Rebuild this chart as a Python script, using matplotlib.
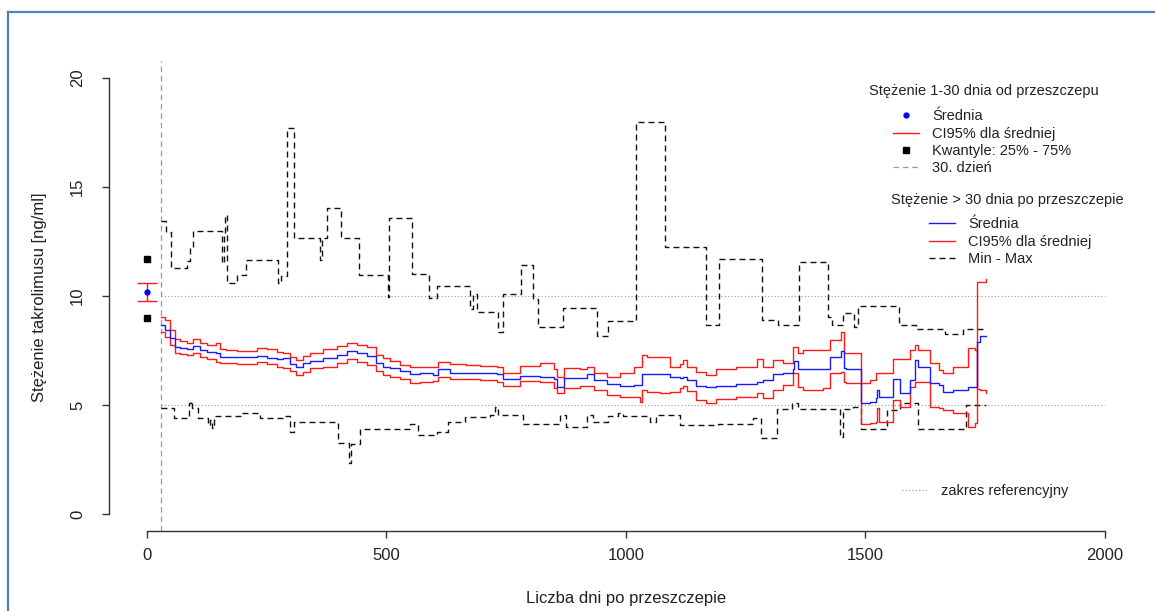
import matplotlib.pyplot as plt
from matplotlib.lines import Line2D

plt.rcParams['font.family'] = ['Liberation Sans', 'DejaVu Sans']

# pierwsze 30 dni (punkt przy dniu 0)
early_mean = 10.17
early_ci = [9.77, 10.58]
early_q = [8.98, 11.68]
day_30 = 30
ref_range = [5, 10]

# > 30 dni: srednia i CI95% (funkcje schodkowe)
ci_days = [30, 38, 48, 58, 69, 83, 97, 111, 125, 145, 152, 166, 187, 215, 229, 250, 271, 285,
           298, 312, 326, 340, 368, 396, 417, 438, 459, 479, 493, 507, 528, 549, 570, 598, 608,
           632, 667, 695, 730, 744, 779, 821, 849, 856, 870, 905, 919, 933, 960, 988, 1016,
           1030, 1034, 1044, 1072, 1092, 1113, 1120, 1127, 1147, 1168, 1189, 1231, 1273, 1287,
           1308, 1329, 1349, 1352, 1360, 1370, 1412, 1426, 1449, 1456, 1460, 1492, 1510, 1523,
           1524, 1528, 1558, 1572, 1593, 1603, 1610, 1635, 1655, 1662, 1683, 1715, 1729, 1733,
           1740, 1752]
mean = [8.67, 8.44, 8.06, 7.68, 7.60, 7.55, 7.71, 7.52, 7.45, 7.40, 7.22, 7.19, 7.22, 7.19,
        7.25, 7.14, 7.09, 7.14, 6.88, 6.73, 6.94, 7.03, 7.14, 7.29, 7.49, 7.37, 7.25, 6.94,
        6.76, 6.68, 6.55, 6.40, 6.45, 6.38, 6.64, 6.48, 6.45, 6.45, 6.42, 6.18, 6.35, 6.30,
        6.18, 5.84, 6.22, 6.25, 6.42, 6.15, 5.96, 5.87, 5.92, 5.92, 6.41, 6.41, 6.41, 6.30,
        6.22, 6.30, 6.15, 5.87, 5.81, 5.87, 5.96, 6.07, 6.15, 6.42, 6.48, 6.64, 7.03, 6.64,
        6.64, 6.64, 7.19, 7.49, 6.68, 6.64, 5.08, 5.15, 5.31, 5.69, 5.38, 6.18, 5.57, 6.15,
        7.06, 6.76, 6.02, 5.92, 5.61, 5.69, 5.84, 5.84, 7.91, 8.17, 8.17]
ci_hi = [9.02, 8.90, 8.44, 8.01, 7.95, 7.86, 8.01, 7.83, 7.75, 7.83, 7.55, 7.52, 7.49, 7.49,
         7.60, 7.55, 7.45, 7.40, 7.22, 7.06, 7.25, 7.37, 7.55, 7.71, 7.86, 7.75, 7.65, 7.29,
         7.14, 7.03, 6.85, 6.73, 6.76, 6.76, 6.99, 6.88, 6.83, 6.79, 6.73, 6.45, 6.79, 6.91,
         6.64, 6.30, 6.68, 6.64, 6.76, 6.45, 6.30, 6.45, 6.76, 6.76, 7.29, 7.19, 7.19, 6.76,
         6.88, 7.06, 6.76, 6.53, 6.38, 6.64, 6.76, 7.09, 6.76, 7.06, 6.91, 7.65, 7.65, 7.37,
         7.52, 7.52, 7.98, 8.36, 7.40, 7.37, 6.02, 6.15, 6.45, 6.45, 6.45, 7.09, 7.09, 7.52,
         7.75, 7.52, 6.91, 6.60, 6.45, 6.76, 7.60, 7.52, 5.72, 5.69, 5.57]
ci_lo = [8.36, 8.13, 7.75, 7.40, 7.34, 7.29, 7.40, 7.22, 7.09, 6.99, 6.94, 6.91, 6.88, 6.88,
         6.99, 6.88, 6.76, 6.68, 6.57, 6.38, 6.53, 6.68, 6.76, 6.94, 7.09, 6.99, 6.83, 6.57,
         6.38, 6.30, 6.20, 6.00, 6.07, 6.12, 6.30, 6.18, 6.18, 6.15, 6.07, 5.87, 6.12, 6.07,
         5.76, 5.54, 5.76, 5.87, 5.87, 5.69, 5.46, 5.38, 5.35, 5.15, 5.67, 5.61, 5.57, 5.61,
         5.76, 5.87, 5.65, 5.23, 5.11, 5.26, 5.35, 5.57, 5.31, 5.69, 5.92, 6.45, 6.45, 5.84,
         5.69, 5.76, 6.45, 6.53, 6.07, 6.02, 4.13, 4.16, 4.24, 4.85, 4.24, 5.23, 4.92, 5.84,
         6.07, 6.07, 4.92, 4.85, 4.77, 4.62, 4.01, 4.16, 10.66, 10.66, 10.76]

# min - max
max_days = [30, 39, 51, 84, 90, 97, 156, 160, 163, 168, 187, 206, 274, 280, 292, 308, 362, 366,
            375, 405, 443, 504, 506, 554, 589, 606, 674, 680, 689, 733, 744, 782, 807, 817, 869,
            939, 963, 1022, 1081, 1168, 1195, 1285, 1318, 1361, 1422, 1430, 1454, 1476, 1485,
            1571, 1605, 1666, 1704, 1752]
max_vals = [13.45, 12.95, 11.28, 11.6, 12.2, 12.98, 11.5, 12.9, 13.7, 10.58, 10.96, 11.65,
            10.61, 10.9, 17.69, 12.65, 11.65, 12.65, 14.05, 12.68, 10.98, 9.97, 13.56, 11.0,
            9.9, 10.47, 9.4, 10.1, 9.25, 8.36, 10.09, 11.42, 9.85, 8.59, 9.46, 8.17, 8.87,
            17.97, 12.26, 8.67, 11.68, 8.9, 8.67, 11.57, 9.05, 8.67, 9.2, 8.59, 9.54, 8.67,
            8.47, 8.26, 8.47, 8.47]
min_days = [30, 56, 88, 91, 95, 107, 128, 132, 135, 140, 198, 236, 288, 298, 306, 399, 422, 427,
            445, 549, 566, 605, 629, 664, 716, 727, 733, 786, 862, 876, 918, 932, 963, 984, 994,
            1050, 1064, 1113, 1193, 1266, 1283, 1316, 1346, 1360, 1447, 1454, 1475, 1492, 1546,
            1572, 1610, 1711, 1752]
min_vals = [4.85, 4.39, 5.08, 5.2, 4.85, 4.42, 4.08, 4.3, 3.95, 4.5, 4.62, 4.39, 4.5, 3.78,
            4.23, 3.24, 2.32, 3.2, 3.88, 4.15, 3.62, 3.78, 4.23, 4.46, 4.54, 4.92, 4.54, 4.15,
            4.54, 4.0, 4.54, 4.23, 4.5, 4.62, 4.5, 4.23, 4.54, 4.08, 4.15, 4.39, 3.47, 4.8,
            5.08, 4.8, 3.55, 4.8, 4.92, 3.88, 4.77, 5.08, 3.88, 5.0, 5.0]

W, H = 1155, 611
fig = plt.figure(figsize=(W / 100, H / 100), dpi=100)

def fx(px):
    return px / W

def fy(py):
    return 1 - py / H

ax = fig.add_axes([fx(108.7), fy(531.4), fx(1143 - 108.7), (531.4 - 60.6) / H])
ax.set_xlim(-80, 2080)
ax.set_ylim(-0.8, 20.8)
for s in ['top', 'right']:
    ax.spines[s].set_visible(False)
ax.spines['left'].set_bounds(0, 20)
ax.spines['bottom'].set_bounds(0, 2000)
for s in ['left', 'bottom']:
    ax.spines[s].set_color('#333333')
    ax.spines[s].set_linewidth(1.0)
ax.set_xticks([0, 500, 1000, 1500, 2000])
ax.set_yticks([0, 5, 10, 15, 20])
ax.tick_params(direction='out', length=5, width=1.0, color='#333333', labelsize=12,
               labelcolor='#222222')
ax.tick_params(axis='x', pad=7)
ax.tick_params(axis='y', pad=12)
for lab in ax.get_yticklabels():
    lab.set_rotation(90)
    lab.set_va('center')

grey = '#9a9a9a'
ax.hlines(ref_range, day_30, 2000, colors=grey, linestyles=(0, (1, 2)), lw=0.8)
ax.axvline(day_30, color=grey, ls=(0, (4.5, 3)), lw=0.9)

dash = (0, (4.3, 2.9))
ax.step(max_days, max_vals, where='post', color='#111111', ls=dash, lw=1.0)
ax.step(min_days, min_vals, where='post', color='#111111', ls=dash, lw=1.0)
ax.step(ci_days, ci_hi, where='post', color='#ff1a1a', lw=1.0)
ax.step(ci_days, ci_lo, where='post', color='#ff1a1a', lw=1.0)
ax.step(ci_days, mean, where='post', color='#1a1aff', lw=1.0)

ax.errorbar([0], [early_mean], yerr=[[early_mean - early_ci[0]], [early_ci[1] - early_mean]],
            fmt='none', ecolor='#ff1a1a', elinewidth=1.0, capsize=7, capthick=1.0)
ax.plot([0], [early_mean], 'o', color='#0000ff', ms=3.5)
ax.plot([0, 0], early_q, 's', color='black', ms=4.2, ls='none')

fs = 10.5
fs_px = fs * 100 / 72
leg_kw = dict(loc='upper left', bbox_transform=fig.transFigure, frameon=False,
              borderpad=0, borderaxespad=0, handlelength=26 / fs_px,
              handletextpad=13 / fs_px, labelspacing=0.215, fontsize=fs)

fig.text(fx(984), fy(91), 'Stężenie 1-30 dnia od przeszczepu', ha='center', va='center',
         fontsize=fs, color='#222222')
h1 = [Line2D([], [], marker='o', color='#0000ff', ls='none', ms=3.5),
      Line2D([], [], color='#ff1a1a', lw=1.0),
      Line2D([], [], marker='s', color='black', ls='none', ms=4.8),
      Line2D([], [], color=grey, ls=(0, (4.5, 3)), lw=0.9)]
leg1 = ax.legend(h1, ['Średnia', 'CI95% dla średniej', 'Kwantyle: 25% - 75%', '30. dzień'],
                 bbox_to_anchor=(fx(893), fy(109.5)), **leg_kw)
ax.add_artist(leg1)

fig.text(fx(1007), fy(200), 'Stężenie > 30 dnia po przeszczepie', ha='center', va='center',
         fontsize=fs, color='#222222')
h2 = [Line2D([], [], color='#1a1aff', lw=1.0),
      Line2D([], [], color='#ff1a1a', lw=1.0),
      Line2D([], [], color='#111111', ls=dash, lw=1.0)]
leg2 = ax.legend(h2, ['Średnia', 'CI95% dla średniej', 'Min - Max'],
                 bbox_to_anchor=(fx(929), fy(217.5)), **leg_kw)
ax.add_artist(leg2)

h3 = [Line2D([], [], color=grey, ls=(0, (1, 2)), lw=0.8)]
leg3 = ax.legend(h3, ['zakres referencyjny'], bbox_to_anchor=(fx(902), fy(484.5)), **leg_kw)
for lg in (leg1, leg2, leg3):
    for t in lg.get_texts():
        t.set_color('#222222')

fig.text(fx(40), fy(297), 'Stężenie takrolimusu [ng/ml]', rotation=90, ha='center',
         va='center', fontsize=12, color='#222222')
fig.text(fx(626), fy(598), 'Liczba dni po przeszczepie', ha='center', va='center',
         fontsize=12, color='#222222')

# ramka obrazka (lewa i gorna krawedz)
fig.add_artist(Line2D([fx(7.5), fx(7.5)], [0, fy(11.5)], color='#4f81bd', lw=1.6))
fig.add_artist(Line2D([fx(7.5), 1], [fy(11.5), fy(11.5)], color='#4f81bd', lw=1.6))

fig.savefig('out.png', dpi=100)
